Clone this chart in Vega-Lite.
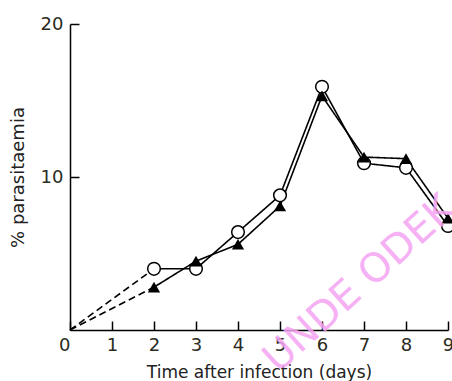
{
  "$schema": "https://vega.github.io/schema/vega-lite/v6.json",
  "width": 378,
  "height": 306,
  "autosize": "none",
  "padding": {"left": 70, "top": 24, "right": 4, "bottom": 51},
  "background": "white",
  "config": {"view": {"stroke": null}, "font": "DejaVu Sans"},
  "datasets": {
    "lines": [
      {"series": "circle", "part": "dashed", "day": 0, "pct": 0},
      {"series": "circle", "part": "dashed", "day": 2, "pct": 4.0},
      {"series": "circle", "part": "solid", "day": 2, "pct": 4.0},
      {"series": "circle", "part": "solid", "day": 3, "pct": 4.0},
      {"series": "circle", "part": "solid", "day": 4, "pct": 6.4},
      {"series": "circle", "part": "solid", "day": 5, "pct": 8.8},
      {"series": "circle", "part": "solid", "day": 6, "pct": 15.9},
      {"series": "circle", "part": "solid", "day": 7, "pct": 10.9},
      {"series": "circle", "part": "solid", "day": 8, "pct": 10.6},
      {"series": "circle", "part": "solid", "day": 9, "pct": 6.8},
      {"series": "triangle", "part": "dashed", "day": 0, "pct": 0},
      {"series": "triangle", "part": "dashed", "day": 2, "pct": 2.8},
      {"series": "triangle", "part": "solid", "day": 2, "pct": 2.8},
      {"series": "triangle", "part": "solid", "day": 3, "pct": 4.5},
      {"series": "triangle", "part": "solid", "day": 4, "pct": 5.6},
      {"series": "triangle", "part": "solid", "day": 5, "pct": 8.1},
      {"series": "triangle", "part": "solid", "day": 6, "pct": 15.3},
      {"series": "triangle", "part": "solid", "day": 7, "pct": 11.3},
      {"series": "triangle", "part": "solid", "day": 8, "pct": 11.2},
      {"series": "triangle", "part": "solid", "day": 9, "pct": 7.3}
    ],
    "wm": [{"day": 6.9, "pct": 3.0, "label": "UNDE ODEK"}]
  },
  "encoding": {
    "x": {
      "field": "day", "type": "quantitative",
      "scale": {"domain": [0, 9], "nice": false, "zero": false},
      "axis": {
        "values": [0, 1, 2, 3, 4, 5, 6, 7, 8, 9],
        "title": "Time after infection (days)",
        "grid": false,
        "tickSize": -9, "tickWidth": 1.5, "tickColor": "black",
        "domainColor": "black", "domainWidth": 1.5,
        "labelFontSize": 18, "labelColor": "#2b2b22", "labelPadding": 15,
        "labelAlign": {"expr": "datum.value == 0 ? 'right' : 'center'"},
        "titleFontSize": 17, "titleFontWeight": "normal", "titleColor": "#222", "titlePadding": 10
      }
    },
    "y": {
      "field": "pct", "type": "quantitative",
      "scale": {"domain": [0, 20], "nice": false},
      "axis": {
        "values": [10, 20],
        "title": "% parasitaemia",
        "grid": false,
        "tickSize": -9, "tickWidth": 1.5, "tickColor": "black",
        "domainColor": "black", "domainWidth": 1.5,
        "labelFontSize": 18, "labelColor": "#2b2b22", "labelPadding": 16,
        "titleFontSize": 18, "titleFontWeight": "normal", "titleColor": "#222", "titlePadding": 13
      }
    }
  },
  "layer": [
    {
      "data": {"name": "lines"},
      "mark": {"type": "line", "color": "black", "strokeWidth": 1.6},
      "encoding": {
        "detail": [{"field": "series"}, {"field": "part"}],
        "strokeDash": {"field": "part", "type": "nominal", "scale": {"domain": ["dashed", "solid"], "range": [[7, 4], [1, 0]]}, "legend": null}
      }
    },
    {
      "data": {"name": "lines"},
      "transform": [{"filter": "datum.part == 'solid' && datum.series == 'circle'"}],
      "mark": {"type": "point", "shape": "circle", "filled": true, "fill": "white", "stroke": "black", "strokeWidth": 1.5, "size": 160, "opacity": 1}
    },
    {
      "data": {"name": "lines"},
      "transform": [{"filter": "datum.part == 'solid' && datum.series == 'triangle'"}],
      "mark": {"type": "point", "shape": "triangle-up", "filled": true, "color": "black", "size": 150, "opacity": 1}
    },
    {
      "data": {"name": "wm"},
      "mark": {"type": "text", "angle": -42, "fontSize": 40, "color": "#f5a3f3", "opacity": 0.85, "font": "DejaVu Sans", "align": "center", "baseline": "middle"},
      "encoding": {"text": {"field": "label"}}
    }
  ]
}
